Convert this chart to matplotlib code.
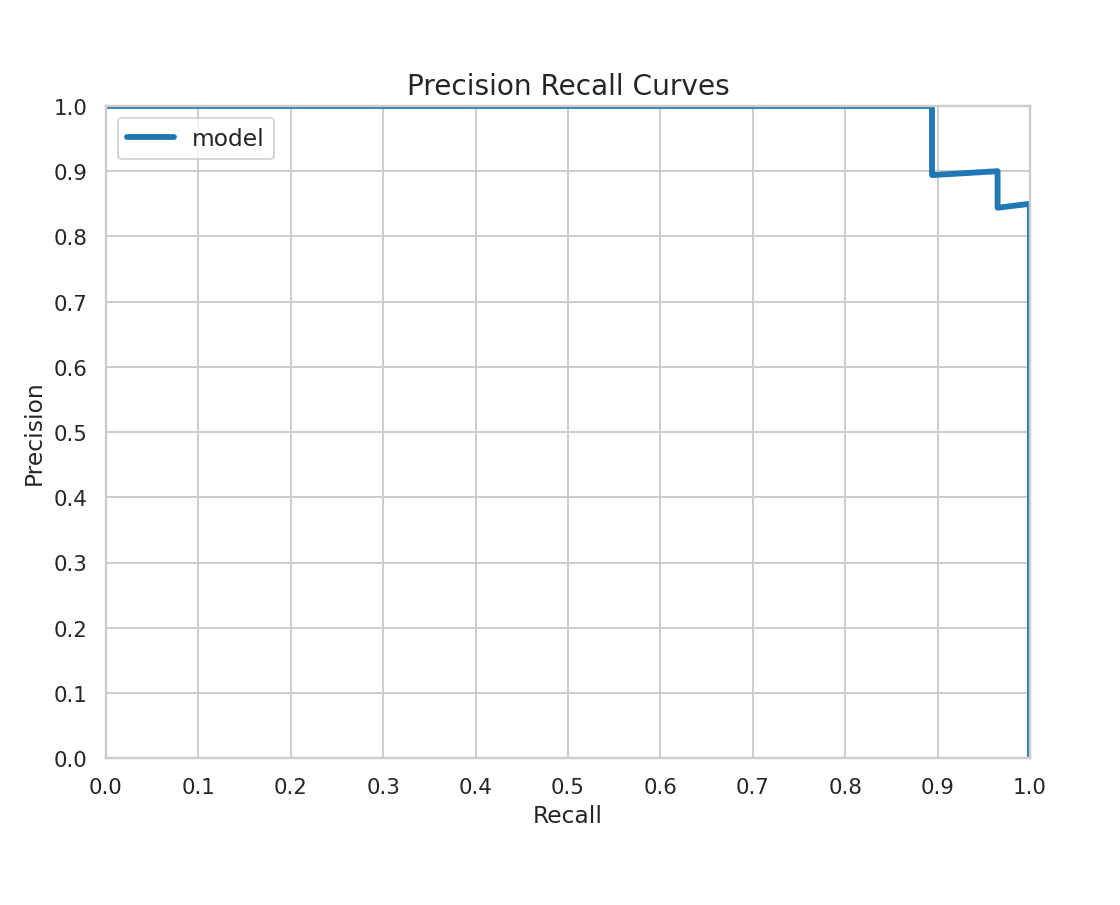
import matplotlib
matplotlib.use('Agg')
import matplotlib.pyplot as plt
import seaborn as sns

# precision / recall points
recall = [0.0, 0.894, 0.894, 0.965, 0.965, 1.0, 1.0]
precision = [1.0, 1.0, 0.894, 0.900, 0.844, 0.850, 0.0]
ticks = [0.0, 0.1, 0.2, 0.3, 0.4, 0.5, 0.6, 0.7, 0.8, 0.9, 1.0]

sns.set_theme(style='whitegrid')
fig = plt.figure(figsize=(8, 6.471), dpi=140)
ax = fig.add_axes([0.0946, 0.162, 0.825, 0.72])
ax.plot(recall, precision, color='#1f77b4', lw=3, label='model')
ax.set_xlim(0, 1)
ax.set_ylim(0, 1)
ax.set_xticks(ticks)
ax.set_yticks(ticks)
ax.set_xlabel('Recall')
ax.set_ylabel('Precision')
ax.set_title('Precision Recall Curves', fontsize=14.4)
ax.legend(loc='upper left', fontsize=12)
fig.savefig('out.png', dpi=140)
